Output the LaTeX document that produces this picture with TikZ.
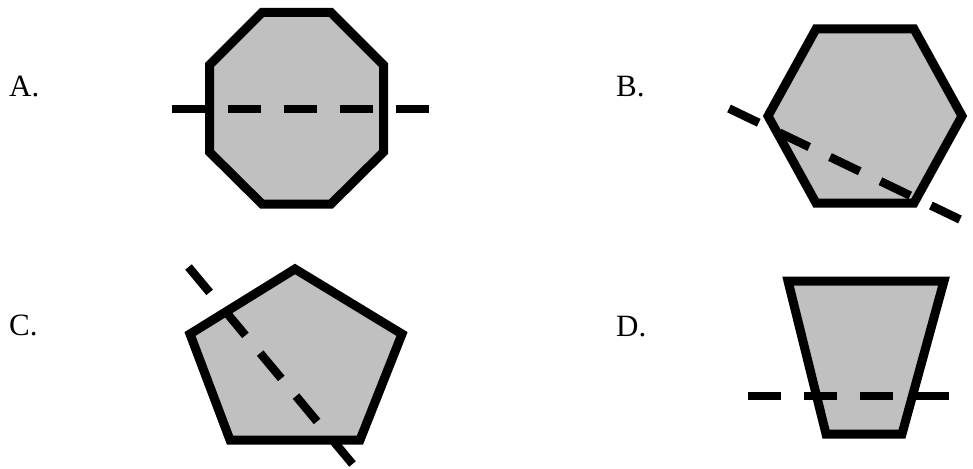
\documentclass[tikz,border=0pt]{standalone}
\usepackage{fontspec}
\setmainfont{Liberation Serif}
\definecolor{shapefill}{RGB}{192,192,192}
\begin{document}
\begin{tikzpicture}[x=1pt,y=-1pt,
  shapeoutline/.style={draw=black,line width=9pt,fill=shapefill,line join=miter},
  cutline/.style={draw=black,line width=8.5pt,dash pattern=on 33pt off 23pt},
  optlabel/.style={anchor=base west,inner sep=0pt,font=\fontsize{31}{31}\selectfont}]
\useasboundingbox (0,0) rectangle (973,468);
% A: octagon
\draw[shapeoutline] (262,12.5) -- (331,12.5) -- (383.5,65) -- (383.5,152) -- (331,204) -- (262,204) -- (209.5,152) -- (209.5,65) -- cycle;
\coordinate (a1) at (172,109);
\coordinate (a2) at (429,109);
\draw[cutline] (a1) -- (a2);
\node[optlabel] (la) at (9,96) {A.};
% B: hexagon
\draw[shapeoutline] (816,29) -- (914,29) -- (962,116) -- (914,203) -- (816,203) -- (768,116) -- cycle;
\coordinate (b1) at (729,108.5);
\coordinate (b2) at (960,219.5);
\draw[cutline] (b1) -- (b2);
\node[optlabel] (lb) at (616,96) {B.};
% C: pentagon
\draw[shapeoutline] (295,269) -- (402,334) -- (360,440) -- (230,440) -- (190,334) -- cycle;
\coordinate (c1) at (188.5,267);
\coordinate (c2) at (352.5,464);
\draw[cutline] (c1) -- (c2);
\node[optlabel] (lc) at (9,335) {C.};
% D: trapezoid
\draw[shapeoutline] (788,281) -- (944,281) -- (902,434) -- (826,434) -- cycle;
\coordinate (d1) at (748,396);
\coordinate (d2) at (951,396);
\draw[cutline] (d1) -- (d2);
\node[optlabel] (ld) at (616,336) {D.};
\end{tikzpicture}
\end{document}
